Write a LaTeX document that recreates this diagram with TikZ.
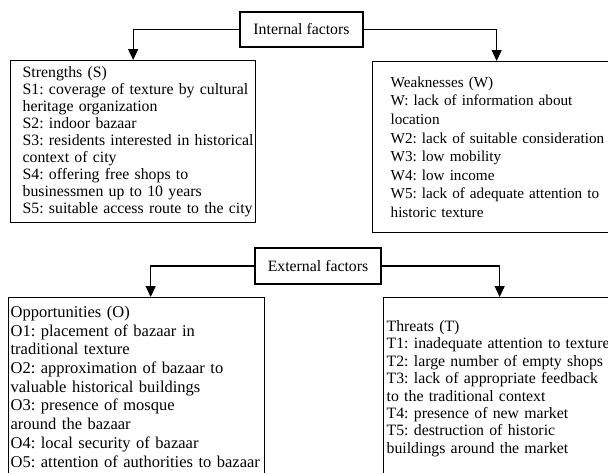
\documentclass[tikz,border=0pt]{standalone}
\usepackage{fontspec}
\setmainfont{Liberation Serif}
\usepackage{tikz}
\usetikzlibrary{arrows.meta}

\tikzset{
  factor/.style={draw=black,line width=1.3pt,rectangle,minimum width=123pt,minimum height=35pt,
    font=\fontsize{15.8}{17}\selectfont},
  swot/.style 2 args={draw=black,line width=1.3pt,rectangle,anchor=north west,align=left,
    inner sep=0pt,font=\fontsize{#1}{#2}\selectfont},
  pad/.style={execute at begin node={\leftskip=#1\hyphenpenalty=10000\relax}},
}

\begin{document}
\frenchspacing
\begin{tikzpicture}[x=1pt,y=-1pt,>={Triangle[length=11pt,width=10pt]},line width=1.3pt]
			\useasboundingbox (0,0) rectangle (608,472);
			% internal factors
			\node[factor] (int) at (301.5,29.5) {Internal factors};
			\node[swot={15.8}{17},pad=12pt,text width=245pt,minimum height=162pt] (str) at (10,60) {Strengths (S)\\
				S1: coverage of texture by cultural\\ heritage organization\\ S2: indoor bazaar\\
				S3: residents interested in historical\\ context of city\\ S4: offering free shops to\\
				businessmen up to 10 years\\ S5: suitable access route to the city};
			\node[swot={15.2}{18.6},pad=18pt,text width=268pt,minimum height=171pt] (weak) at (372,61) {Weaknesses (W)\\
				W: lack of information about\\ location\\ W2: lack of suitable consideration\\
				W3: low mobility\\ W4: low income\\ W5: lack of adequate attention to\\ historic texture};
			\draw[->] (int.west) -| (str.north);
			\draw[->] (int.east) -| ([xshift=-10pt]weak.north);
			% external factors
			\node[factor,minimum width=126pt,minimum height=36pt] (ext) at (318,266) {External factors};
			\node[swot={16.5}{18.7},pad=2pt,text width=256pt,minimum height=178pt] (opp) at (8,297) {Opportunities (O)\\
				O1: placement of bazaar in\\ traditional texture\\ O2: approximation of bazaar to\\
				valuable historical buildings\\ O3: presence of mosque\\ around the bazaar\\
				O4: local security of bazaar\\ O5: attention of authorities to bazaar};
			\node[swot={15.8}{17.4},pad=3pt,text width=246pt,minimum height=182pt] (thr) at (383,297) {Threats (T)\\
				T1: inadequate attention to texture\\ T2: large number of empty shops\\
				T3: lack of appropriate feedback\\ to the traditional context\\ T4: presence of new market\\
				T5: destruction of historic\\ buildings around the market};
			\draw[->] (ext.west) -| ([xshift=14pt]opp.north);
			\draw[->] (ext.east) -| ([xshift=-7pt]thr.north);
		\end{tikzpicture}
\end{document}
